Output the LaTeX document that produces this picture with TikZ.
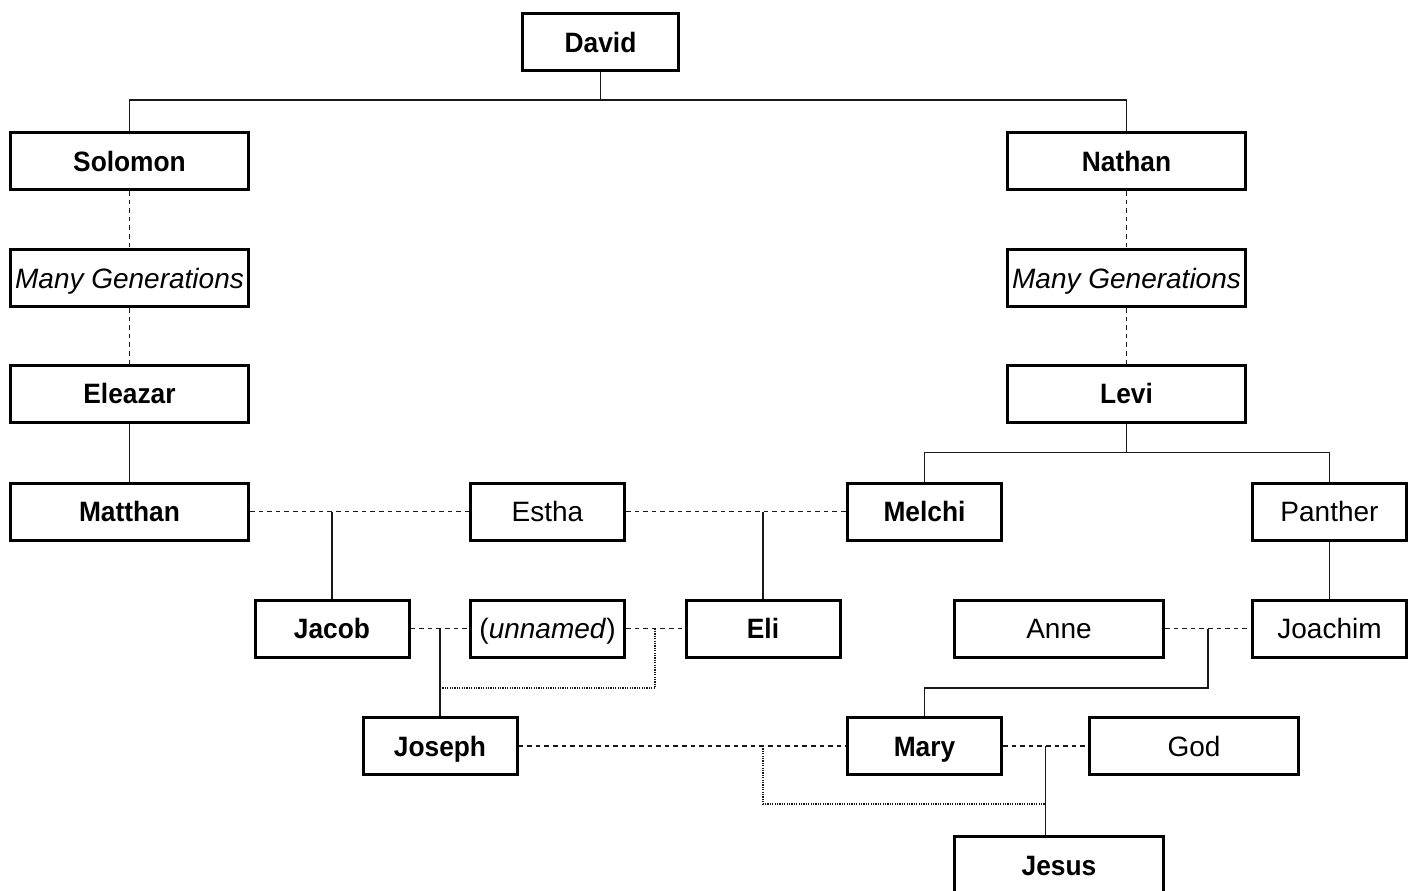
\documentclass[tikz,border=0pt]{standalone}
\usepackage{fontspec}
\setmainfont{Liberation Sans}
\newfontfamily\bnar{Liberation Sans}[FakeStretch=0.94]
\usetikzlibrary{calc}
\begin{document}
\begin{tikzpicture}[x=0.5pt,y=-0.5pt,
  box/.style={draw=black, line width=1.5pt, minimum height=28.5pt, inner sep=0pt,
    text height=10pt, text depth=0pt,
    font={\fontsize{14}{16}\selectfont}},
  bname/.style={box, font={\fontsize{14}{16}\bnar\bfseries}},
  conn/.style={line width=0.95pt, draw=black!90},
  dsh/.style={conn, dash pattern=on 2.3pt off 2pt},
  dtt/.style={conn, dash pattern=on 0.6pt off 0.6pt},
]
\clip (0,0) rectangle (1416,890);
% nodes
\node[bname, minimum width=78pt]  (david)   at (600.5,42)   {David};
\node[bname, minimum width=119pt] (solomon) at (129.5,161)  {Solomon};
\node[bname, minimum width=119pt] (nathan)  at (1126.5,161) {Nathan};
\node[box, minimum width=119pt]   (mgl)     at (129.5,278)  {\itshape Many Generations};
\node[box, minimum width=119pt]   (mgr)     at (1126.5,278) {\itshape Many Generations};
\node[bname, minimum width=119pt] (eleazar) at (129.5,393.5) {Eleazar};
\node[bname, minimum width=119pt] (levi)    at (1126.5,393.5) {Levi};
\node[bname, minimum width=119pt] (matthan) at (129.5,511.5) {Matthan};
\node[box, minimum width=77pt]    (estha)   at (547.5,511.5) {Estha};
\node[bname, minimum width=77pt]  (melchi)  at (924.5,511.5) {Melchi};
\node[box, minimum width=77pt]    (panther) at (1329.5,511.5) {Panther};
\node[bname, minimum width=77pt]  (jacob)   at (332,628.5)  {Jacob};
\node[box, minimum width=77pt]    (unnamed) at (547.5,628.5) {(\textit{unnamed})};
\node[bname, minimum width=77pt]  (eli)     at (763,628.5)  {Eli};
\node[box, minimum width=104.5pt] (anne)    at (1059,628.5) {Anne};
\node[box, minimum width=77pt]    (joachim) at (1329.5,628.5) {Joachim};
\node[bname, minimum width=77pt]  (joseph)  at (440,746)    {Joseph};
\node[bname, minimum width=77pt]  (mary)    at (924.5,746)  {Mary};
\node[box, minimum width=104.5pt] (god)     at (1194,746)   {God};
\node[bname, minimum width=104.5pt] (jesus) at (1059,865)   {Jesus};
% junction coordinates
\coordinate (dj) at ($(david.south)+(0,28)$);
\coordinate (lj) at ($(levi.south)+(0,29)$);
\coordinate (um) at ($(unnamed.east)!0.5!(eli.west)$);
\coordinate (am) at ($(anne.east)!0.5!(joachim.west)$);
\coordinate (mg) at ($(mary.east)!0.5!(god.west)$);
\coordinate (jx) at ($(joseph.north)+(0,-28)$);
\coordinate (mx) at ($(mary.north)+(0,-28)$);
\coordinate (jm) at (eli.south |- joseph.east);
\coordinate (jd) at ($(mg)+(0,58)$);
% solid connectors
\draw[conn] (david.south) -- (dj);
\draw[conn] (solomon.north) |- (dj) -| (nathan.north);
\draw[conn] (eleazar.south) -- (matthan.north);
\draw[conn] (levi.south) -- (lj);
\draw[conn] (melchi.north) |- (lj) -| (panther.north);
\draw[conn] (panther.south) -- (joachim.north);
\draw[conn] (jacob.north) -- (jacob.north |- matthan.east);
\draw[conn] (eli.north) -- (eli.north |- estha.east);
\draw[conn] (joseph.north) -- (joseph.north |- jacob.east);
\draw[conn] (am) |- (mx) -- (mary.north);
\draw[conn] (mg) -- (mg |- jesus.north);
% dashed connectors
\draw[dsh] (solomon.south) -- (mgl.north);
\draw[dsh] (mgl.south) -- (eleazar.north);
\draw[dsh] (nathan.south) -- (mgr.north);
\draw[dsh] (mgr.south) -- (levi.north);
\draw[dsh] (matthan.east) -- (estha.west);
\draw[dsh] (estha.east) -- (melchi.west);
\draw[dsh] (jacob.east) -- (unnamed.west);
\draw[dsh] (unnamed.east) -- (eli.west);
\draw[dsh] (anne.east) -- (joachim.west);
\draw[dsh] (joseph.east) -- (mary.west);
\draw[dsh] (mary.east) -- (god.west);
% dotted connectors
\draw[dtt] (um) |- (jx);
\draw[dtt] (jm) |- (jd);
\end{tikzpicture}
\end{document}
